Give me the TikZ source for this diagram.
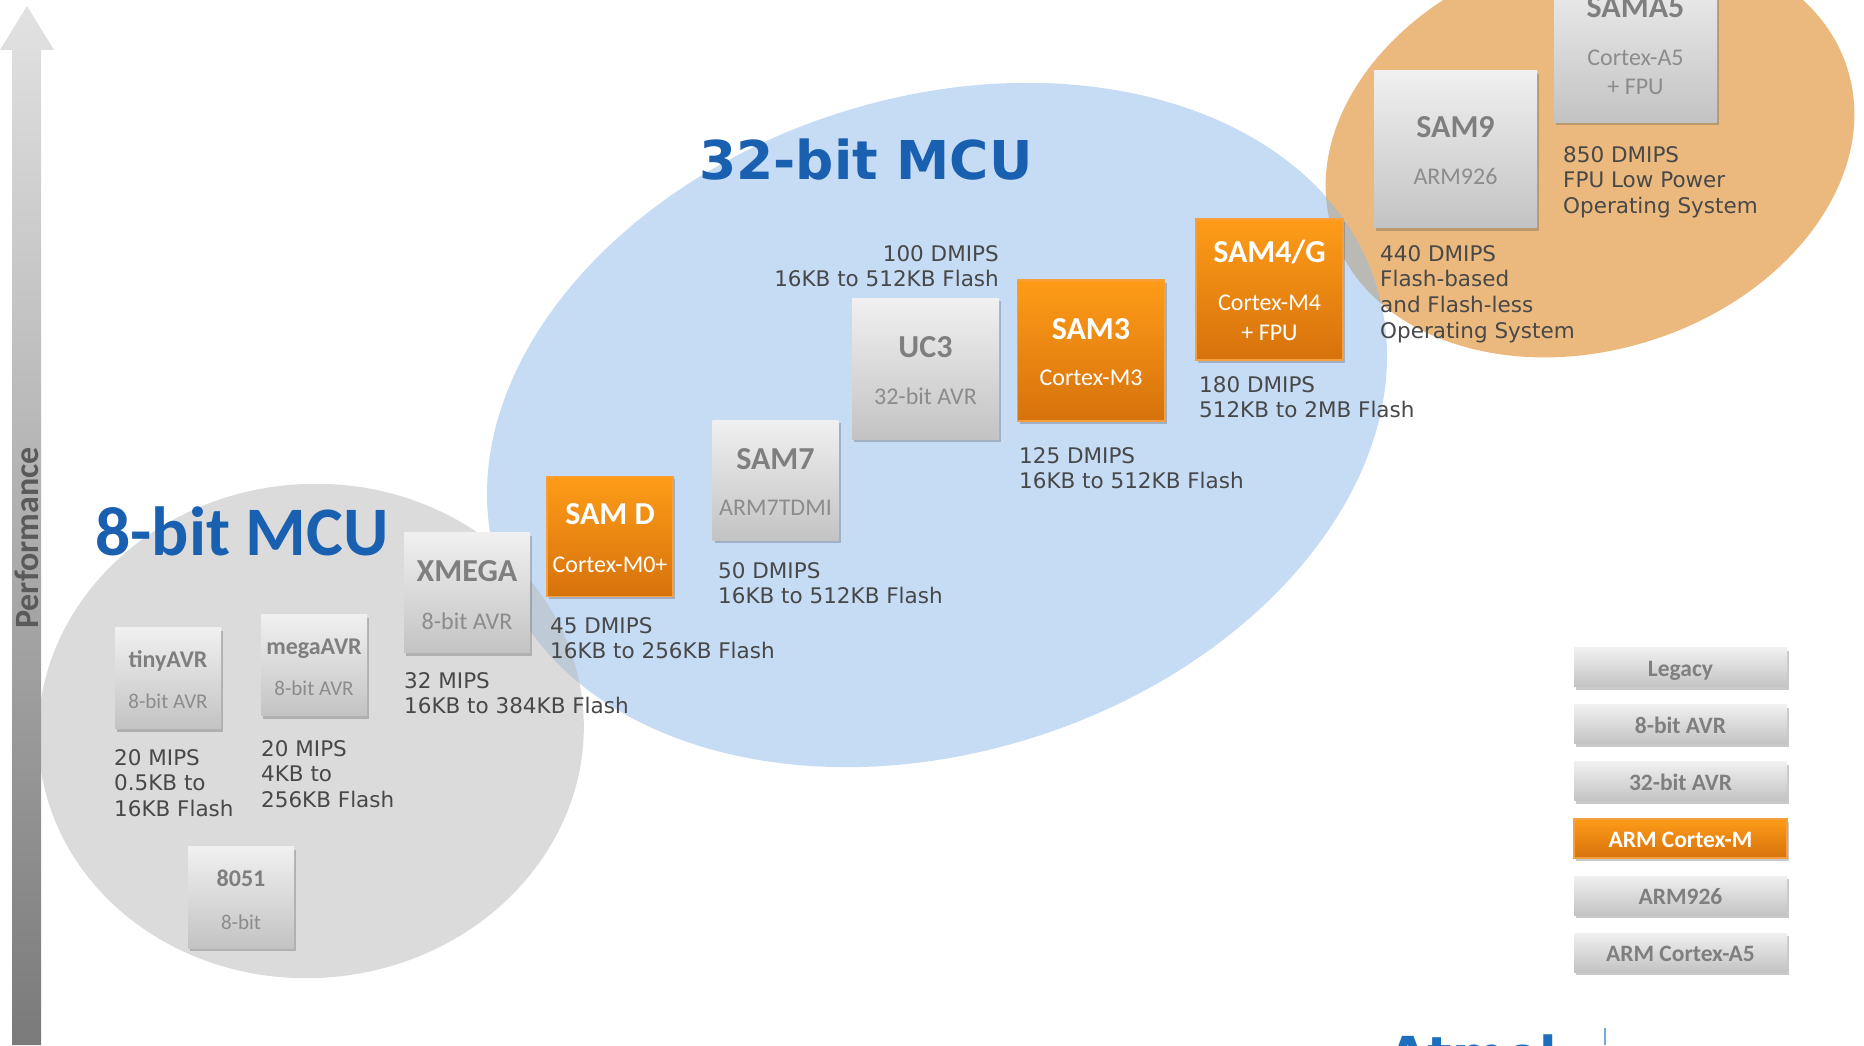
\documentclass[tikz,border=0pt]{standalone}
\usepackage{fontspec}
\setmainfont{Carlito}
\newfontfamily\specfont{DejaVu Sans}
\usetikzlibrary{positioning,shadows}

\definecolor{mcublue}{RGB}{26,96,176}
\definecolor{blobblue}{RGB}{141,185,235}
\definecolor{blobgrey}{RGB}{184,184,184}
\definecolor{bloborange}{RGB}{235,185,126}
\definecolor{chiptop}{RGB}{240,240,240}
\definecolor{chipbot}{RGB}{195,195,195}
\definecolor{armtop}{RGB}{254,156,24}
\definecolor{armbot}{RGB}{214,114,12}
\definecolor{armedge}{RGB}{245,160,60}
\definecolor{chiptext}{RGB}{127,127,127}
\definecolor{subtext}{RGB}{140,140,140}
\definecolor{spectext}{RGB}{72,72,72}
\definecolor{perftext}{RGB}{90,90,90}
\definecolor{arrowtop}{RGB}{226,226,226}
\definecolor{arrowbot}{RGB}{122,122,122}
\definecolor{atmelblue}{RGB}{30,110,190}

\tikzset{
	% Chip boxes: grey for the older cores, orange for Cortex-M
	grey chip/.style={rectangle,inner sep=0,outer sep=0,top color=chiptop,bottom color=chipbot,
		drop shadow={shadow xshift=2pt,shadow yshift=-3pt,opacity=.3,fill=black!70}},
	arm chip/.style={grey chip,draw=armedge,line width=1.2,top color=armtop,bottom color=armbot},
	small chip/.style={minimum width=106,minimum height=101},
	mid chip/.style={minimum width=126,minimum height=120},
	big chip/.style={minimum width=147,minimum height=141},
	huge chip/.style={minimum width=163,minimum height=157},
	% Texts inside the chips, placed by their base line
	chip title/.style={anchor=base,inner sep=0,text=chiptext,font=\bfseries\fontsize{32}{38}\selectfont},
	chip sub/.style={anchor=base,inner sep=0,text=subtext,font=\fontsize{24}{29}\selectfont},
	small title/.style={chip title,font=\bfseries\fontsize{24}{29}\selectfont},
	small sub/.style={chip sub,font=\fontsize{21}{25}\selectfont},
	arm title/.style={chip title,text=white},
	arm sub/.style={chip sub,text=white},
	spec/.style={anchor=north west,inner sep=0,align=left,text=spectext,
		font=\specfont\fontsize{21.5}{25.8}\selectfont},
	% Legend on the right
	legend/.style={grey chip,minimum width=213,minimum height=39,text height=18.2,text depth=0,
		text=chiptext,font=\bfseries\fontsize{23.5}{28}\selectfont},
	arm legend/.style={draw=armedge,line width=1.2,top color=armtop,bottom color=armbot,text=white}
}

\begin{document}
\begin{tikzpicture}[x=1pt,y=1pt]
	\useasboundingbox (0,0) rectangle (1864,1045);
	\clip (0,0) rectangle (1864,1045);
	
	% Family blobs
	\fill[bloborange,rotate around={17.6:(1590,895)}] (1590,895) ellipse [x radius=270,y radius=200];
	\fill[blobblue,fill opacity=.5,rotate around={18:(937,620)}] (937,620) ellipse [x radius=461,y radius=327];
	\fill[blobgrey,fill opacity=.5,rotate around={5:(311,314)}] (311,314) ellipse [x radius=273,y radius=247];
	
	% Performance axis
	\shade[top color=arrowtop,bottom color=arrowbot] (12,0) -- (12,995) -- (0,995) -- (27,1039) -- (54,995) -- (41,995) -- (41,0) -- cycle;
	\node[rotate=90,inner sep=0,text=perftext,font=\bfseries\fontsize{34}{40}\selectfont] (perf) at (27,507) {Performance};
	
	\node[anchor=base west,inner sep=0,text=mcublue,font=\bfseries\fontsize{69.5}{72}\selectfont] (mcu8) at (95,489.5) {8-bit MCU};
	\node[anchor=base west,inner sep=0,text=mcublue,font=\specfont\bfseries\fontsize{53.5}{60}\selectfont] (mcu32) at (699,865) {32-bit MCU};
	
	% 8-bit
	\node[grey chip,small chip] (tiny) at (168,366.5) {};
	\node[small title] at ([yshift=10.5]tiny.center) {tinyAVR};
	\node[small sub] at ([yshift=-30.5]tiny.center) {8-bit AVR};
	\node[spec] at (114,296) {20 MIPS\\0.5KB to\\16KB Flash};
	
	\node[grey chip,small chip] (mega) at (314,379.5) {};
	\node[small title] at ([yshift=10.5]mega.center) {megaAVR};
	\node[small sub] at ([yshift=-30]mega.center) {8-bit AVR};
	\node[spec] at (261,305) {20 MIPS\\4KB to\\256KB Flash};
	
	\node[grey chip,small chip] (i8051) at (241,147.5) {};
	\node[small title] at ([yshift=11.5]i8051.center) {8051};
	\node[small sub] at ([yshift=-31.5]i8051.center) {8-bit};
	
	\node[grey chip,mid chip] (xmega) at (467,452) {};
	\node[chip title] at ([yshift=11]xmega.center) {XMEGA};
	\node[chip sub] at ([yshift=-37]xmega.center) {8-bit AVR};
	\node[spec] at (404,373) {32 MIPS\\16KB to 384KB Flash};
	
	% 32-bit
	\node[arm chip,mid chip] (samd) at (610,508.5) {};
	\node[arm title] at ([yshift=11.5]samd.center) {SAM D};
	\node[arm sub] at ([yshift=-36.5]samd.center) {Cortex-M0+};
	\node[spec] at (550,428) {45 DMIPS\\16KB to 256KB Flash};
	
	\node[grey chip,mid chip] (sam7) at (775.5,564.5) {};
	\node[chip title] at ([yshift=10.5]sam7.center) {SAM7};
	\node[chip sub] at ([yshift=-35.5]sam7.center) {ARM7TDMI};
	\node[spec] at (718,483) {50 DMIPS\\16KB to 512KB Flash};
	
	\node[grey chip,big chip] (uc3) at (925.5,676) {};
	\node[chip title] at ([yshift=11]uc3.center) {UC3};
	\node[chip sub] at ([yshift=-36]uc3.center) {32-bit AVR};
	\node[spec,anchor=north east,align=right] at (999,800) {100 DMIPS\\16KB to 512KB Flash};
	
	\node[arm chip,big chip] (sam3) at (1091,694.5) {};
	\node[arm title] at ([yshift=10.5]sam3.center) {SAM3};
	\node[arm sub] at ([yshift=-35.5]sam3.center) {Cortex-M3};
	\node[spec] at (1019,598) {125 DMIPS\\16KB to 512KB Flash};
	
	\node[arm chip,big chip] (sam4) at (1269.5,755.5) {};
	\node[arm title] at ([yshift=26.5]sam4.center) {SAM4/G};
	\node[arm sub] at ([yshift=-21.5]sam4.center) {Cortex-M4};
	\node[arm sub] at ([yshift=-51.5]sam4.center) {+ FPU};
	\node[spec] at (1199,669) {180 DMIPS\\512KB to 2MB Flash};
	
	% ARM9 / Cortex-A
	\node[grey chip,huge chip] (sam9) at (1455.5,895.5) {};
	\node[chip title] at ([yshift=11.5]sam9.center) {SAM9};
	\node[chip sub] at ([yshift=-35.5]sam9.center) {ARM926};
	\node[spec] at (1380,800) {440 DMIPS\\Flash-based\\and Flash-less\\Operating System};
	
	\node[grey chip,huge chip] (sama5) at (1635.5,1001) {};
	\node[chip title] at ([yshift=26]sama5.center) {SAMA5};
	\node[chip sub] at ([yshift=-22]sama5.center) {Cortex-A5};
	\node[chip sub] at ([yshift=-51]sama5.center) {+ FPU};
	\node[spec] at (1563,899) {850 DMIPS\\FPU Low Power\\Operating System};
	
	% Legend
	\node[legend] (legacy) at (1680.5,377.5) {Legacy};
	\node[legend,below=18pt of legacy] (avr8) {8-bit AVR};
	\node[legend,below=18pt of avr8] (avr32) {32-bit AVR};
	\node[legend,arm legend,below=18pt of avr32] (cortexm) {ARM Cortex-M};
	\node[legend,below=18pt of cortexm] (arm926) {ARM926};
	\node[legend,below=18pt of arm926] (cortexa) {ARM Cortex-A5};
	
	% Logo, cut by the bottom edge
	\node[anchor=base west,inner sep=0,text=atmelblue,font=\specfont\bfseries\fontsize{51}{51}\selectfont] (atmel) at (1388,-28) {Atmel};
	\coordinate (rule top) at (1605,17);
	\coordinate (rule foot) at (1605,0);
	\draw[atmelblue!60,line width=1.5] (rule top) -- (rule foot);
\end{tikzpicture}
\end{document}
